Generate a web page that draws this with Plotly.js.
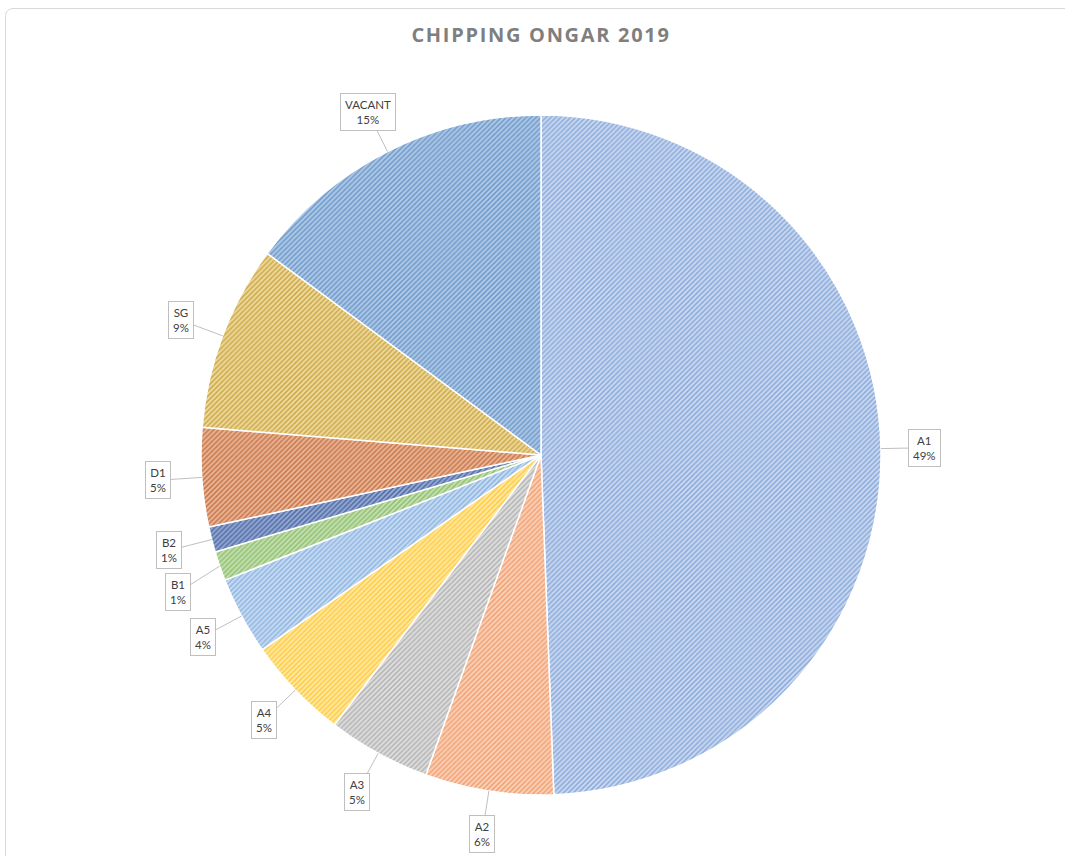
<!DOCTYPE html>
<html>
<head>
<meta charset="utf-8">
<script src="https://cdn.plot.ly/plotly-3.0.1.min.js"></script>
<style>
  html, body { margin: 0; padding: 0; background: #ffffff; }
  #wrap { position: relative; width: 1065px; height: 856px; overflow: hidden; }
  #frame { position: absolute; left: 5px; top: 8px; width: 1075px; height: 860px;
           border: 1px solid #d9d9d9; border-radius: 8px; pointer-events: none; z-index: 5; }
  #chart { position: absolute; left: 0; top: 0; }
  .gtitle { letter-spacing: 1.7px; }
</style>
</head>
<body>
<div id="wrap">
  <div id="chart"></div>
  <div id="frame"></div>
</div>
<script>
// ---- data ----
const categories = ["A1", "A2", "A3", "A4", "A5", "B1", "B2", "D1", "SG", "VACANT"];
const shares = [49.4, 6.1, 4.9, 4.9, 3.7, 1.4, 1.2, 4.7, 8.8, 14.9];
const titleText = "CHIPPING ONGAR 2019";

// ---- styles ----
const fgColors = ["#8AAADC", "#F2A070", "#B3B3B3", "#FFCC40", "#8DB5E2", "#8FC06E", "#4F6BA8", "#C87548", "#CCA844", "#6E99CB"];
const bgColors = ["#CCDAF0", "#FAD3BC", "#E0E0E0", "#FFE9A8", "#CADDF3", "#C8E1B6", "#98ABD2", "#EAB89A", "#EFDBA2", "#B2CBE7"];

const W = 1065, H = 856;
const M = { l: 17, r: 0, t: 115, b: 61 };
const Wp = W - M.l - M.r, Hp = H - M.t - M.b;
const R = Math.min(Wp, Hp) / 2;
const cx = M.l + Wp / 2, cy = M.t + Hp / 2;

// ---- label placement computed from the data ----
const total = shares.reduce((a, b) => a + b, 0);
let cum = 0;
const labels = shares.map((v, i) => {
  const mid = (cum + v / 2) / total;
  cum += v;
  const th = 2 * Math.PI * mid;
  const px = cx + R * Math.sin(th), py = cy - R * Math.cos(th);
  const dist = 44;
  const lx = px + dist * Math.sin(th), ly = py - dist * Math.cos(th);
  const pct = Math.round(100 * v / total);
  return { i, px, py, lx, ly, left: Math.sin(th) < 0, text: categories[i] + "<br>" + pct + "%" };
});
// simple collision avoidance on the left side (push downward)
const leftSide = labels.filter(d => d.left).sort((a, b) => a.ly - b.ly);
for (let k = 1; k < leftSide.length; k++) {
  if (leftSide[k].ly - leftSide[k - 1].ly < 42) leftSide[k].ly = leftSide[k - 1].ly + 42;
}

const annotations = labels.map(d => ({
  xref: "paper", yref: "paper",
  x: (d.px - M.l) / Wp, y: 1 - (d.py - M.t) / Hp,
  ax: d.lx - d.px, ay: d.ly - d.py,
  text: d.text, showarrow: true, arrowhead: 0, arrowwidth: 1, arrowcolor: "#bfbfbf",
  standoff: 0, startstandoff: 0,
  bgcolor: "#ffffff", bordercolor: "#bfbfbf", borderwidth: 1, borderpad: 4,
  font: { family: "Lato, 'Liberation Sans', sans-serif", size: 11.5, color: "#404040" },
  align: "center"
}));

const trace = {
  type: "pie",
  labels: categories,
  values: shares,
  sort: false,
  direction: "clockwise",
  rotation: 0,
  textinfo: "none",
  hoverinfo: "label+percent",
  showlegend: false,
  marker: {
    colors: bgColors,
    line: { color: "#ffffff", width: 1.5 },
    pattern: { shape: "/", fgcolor: fgColors, bgcolor: bgColors, size: 3.5, solidity: 0.45 }
  }
};

const layout = {
  width: W, height: H,
  margin: M,
  paper_bgcolor: "#ffffff",
  title: {
    text: "<b>" + titleText + "</b>",
    xref: "paper", x: 0.5, xanchor: "center",
    yref: "container", y: 1 - 35 / H, yanchor: "middle",
    font: { family: "'Open Sans', sans-serif", size: 20, color: "#7f7f7f" }
  },
  annotations: annotations,
  showlegend: false
};

Plotly.newPlot("chart", [trace], layout, { displayModeBar: false, staticPlot: true });
</script>
</body>
</html>
